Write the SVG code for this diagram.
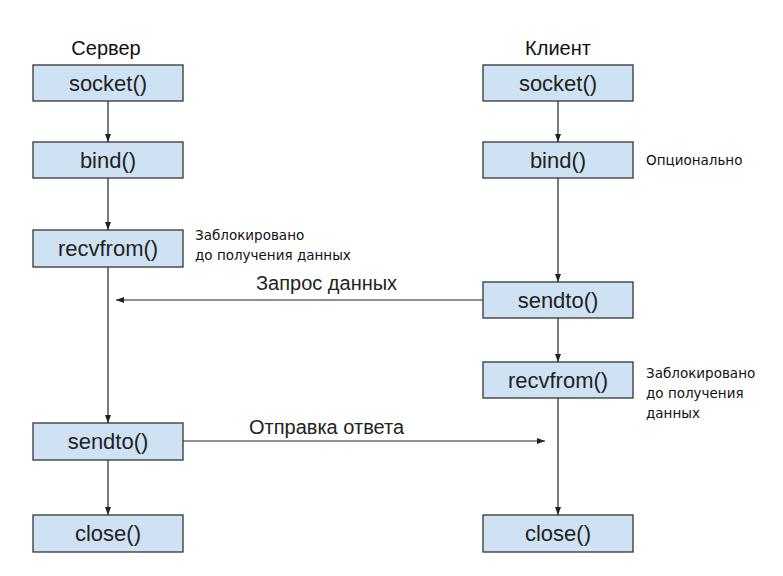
<svg xmlns="http://www.w3.org/2000/svg" width="783" height="576" viewBox="0 0 783 576">
<style>
.box{fill:#cfe2f3;stroke:#333;stroke-width:1.3}
.lbl{font-family:"Liberation Sans",Arial,sans-serif;font-size:22px;fill:#222;text-anchor:middle}
.title{font-family:"Liberation Sans",Arial,sans-serif;font-size:20px;fill:#111;text-anchor:middle}
.note{font-family:"DejaVu Sans","Noto Sans",sans-serif;font-size:13.5px;fill:#111}
.msg{font-family:"Liberation Sans",Arial,sans-serif;font-size:20px;fill:#222}
.ln{stroke:#222;stroke-width:1.2;fill:none;marker-end:url(#ah)}
</style>
<defs>
<marker id="ah" markerWidth="8" markerHeight="8" refX="8" refY="4" orient="auto" markerUnits="userSpaceOnUse">
<path d="M0,1 L8,4 L0,7 Z" fill="#222"/>
</marker>
</defs>
<rect width="783" height="576" fill="#fff"/>
<text class="title" x="106" y="55">Сервер</text>
<text class="title" x="558" y="55">Клиент</text>
<g id="connectors">
<line class="ln" x1="108" y1="101" x2="108" y2="142"/>
<line class="ln" x1="108" y1="178" x2="108" y2="230"/>
<line class="ln" x1="108" y1="267" x2="108" y2="423"/>
<line class="ln" x1="108" y1="460" x2="108" y2="515"/>
<line class="ln" x1="558" y1="101" x2="558" y2="142"/>
<line class="ln" x1="558" y1="178" x2="558" y2="282"/>
<line class="ln" x1="558" y1="318" x2="558" y2="362"/>
<line class="ln" x1="558" y1="398" x2="558" y2="515"/>
<line class="ln" x1="483" y1="300" x2="116" y2="300"/>
<line class="ln" x1="183" y1="441" x2="545" y2="441"/>
<text class="msg" x="256" y="290">Запрос данных</text>
<text class="msg" x="249" y="434">Отправка ответа</text>
</g>
<g id="s-socket"><rect class="box" x="33" y="65" width="150" height="36"/><text class="lbl" x="108" y="91">socket()</text></g>
<g id="s-bind"><rect class="box" x="33" y="142" width="150" height="36"/><text class="lbl" x="108" y="168">bind()</text></g>
<g id="s-recvfrom"><rect class="box" x="33" y="230" width="150" height="37"/><text class="lbl" x="108" y="256">recvfrom()</text>
<text class="note" x="195" y="240">Заблокировано</text><text class="note" x="195" y="260">до получения данных</text></g>
<g id="s-sendto"><rect class="box" x="33" y="423" width="150" height="37"/><text class="lbl" x="108" y="449">sendto()</text></g>
<g id="s-close"><rect class="box" x="33" y="515" width="150" height="37"/><text class="lbl" x="108" y="541">close()</text></g>
<g id="c-socket"><rect class="box" x="483" y="65" width="150" height="36"/><text class="lbl" x="558" y="91">socket()</text></g>
<g id="c-bind"><rect class="box" x="483" y="142" width="150" height="36"/><text class="lbl" x="558" y="168">bind()</text>
<text class="note" x="646" y="165">Опционально</text></g>
<g id="c-sendto"><rect class="box" x="483" y="282" width="150" height="36"/><text class="lbl" x="558" y="308">sendto()</text></g>
<g id="c-recvfrom"><rect class="box" x="483" y="362" width="150" height="36"/><text class="lbl" x="558" y="388">recvfrom()</text>
<text class="note" x="646" y="378">Заблокировано</text><text class="note" x="646" y="398">до получения</text><text class="note" x="646" y="418">данных</text></g>
<g id="c-close"><rect class="box" x="483" y="515" width="150" height="37"/><text class="lbl" x="558" y="541">close()</text></g>
</svg>
